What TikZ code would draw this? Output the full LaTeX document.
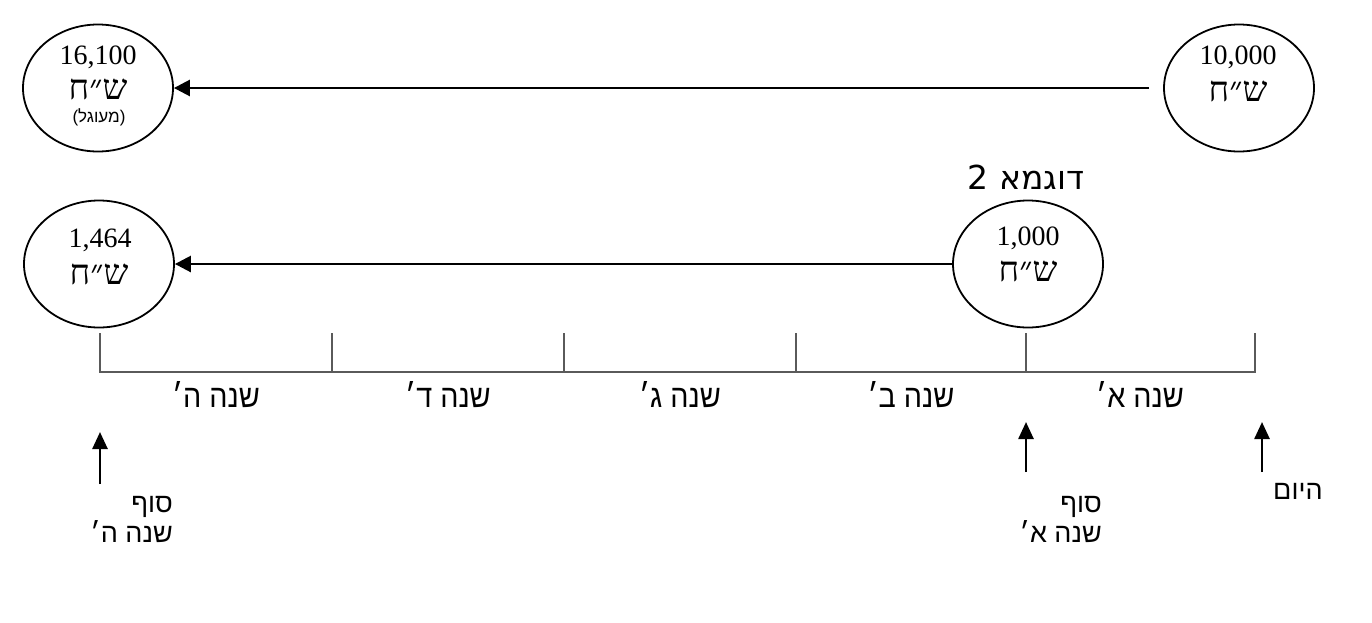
\documentclass[tikz,border=0pt]{standalone}
\usepackage{fontspec}
\usetikzlibrary{shapes.geometric,arrows.meta}
\TeXXeTstate=1
\newfontfamily\hebserif[Script=Hebrew]{Liberation Serif}
\newfontfamily\hebsans[Script=Hebrew]{Liberation Sans}
\newfontfamily\hebnarrow[Script=Hebrew,FakeStretch=0.9]{Liberation Sans}
\newfontfamily\hebdv[Script=Hebrew]{DejaVu Sans}
\definecolor{tlgray}{HTML}{5A5A5A}
\tikzset{
  circ/.style={draw, ellipse, line width=1.8pt, minimum width=150pt, minimum height=127pt, inner sep=0pt},
  num/.style={font=\hebserif\fontsize{28}{32}\selectfont, inner sep=0pt},
  cur/.style={font=\hebserif\fontsize{35}{40}\selectfont, inner sep=0pt},
  small/.style={font=\hebsans\fontsize{17}{20}\selectfont, inner sep=0pt},
  flow/.style={-{Triangle[length=16pt,width=16pt]}, line width=2.6pt},
  uparrow/.style={-{Triangle[length=17pt,width=15pt]}, line width=2.6pt},
  tl/.style={draw=tlgray, line width=1.6pt},
  year/.style={font=\hebnarrow\fontsize{32}{36}\selectfont, inner sep=0pt},
  lbl/.style={font=\hebsans\fontsize{27}{30}\selectfont, inner sep=0pt, align=right},
  title/.style={font=\hebdv\fontsize{33}{38}\selectfont, inner sep=0pt}
}
\begin{document}
\begin{tikzpicture}[x=1pt,y=-1pt]
\useasboundingbox (0,0) rectangle (1372,622);
% example 1
\node[circ] (c1) at (98,88) {};
\node[circ] (c2) at (1239,88) {};
\node[num] (c1n) at (98,57) {16,100};
\node[cur] (c1u) at (98,89) {\beginR ש״ח\endR};
\node[small] (c1r) at (99,117) {\beginR (מעוגל)\endR};
\node[num] (c2n) at (1238,57) {10,000};
\node[cur] (c2u) at (1238,91) {\beginR ש״ח\endR};
\draw[flow] ([xshift=-14pt]c2.west) -- (c1.east);
% example 2
\node[title] (t2) at (1026,177) {\beginR דוגמא 2\endR};
\node[circ] (c3) at (99,264) {};
\node[circ] (c4) at (1028,264) {};
\node[num] (c3n) at (100,240) {1,464};
\node[cur] (c3u) at (99,274) {\beginR ש״ח\endR};
\node[num] (c4n) at (1028,238) {1,000};
\node[cur] (c4u) at (1028,271) {\beginR ש״ח\endR};
\draw[flow] (c4.west) -- (c3.east);
% timeline
\coordinate (p0) at (100,372);
\coordinate (p1) at (332,372);
\coordinate (p2) at (564,372);
\coordinate (p3) at (796,372);
\coordinate (p4) at (1026,372);
\coordinate (p5) at (1255,372);
\draw[tl] ([yshift=39pt]p0) -- (p0) -- (p5) -- ([yshift=39pt]p5);
\foreach \p in {p1,p2,p3,p4} \draw[tl] (\p) -- ([yshift=39pt]\p);
\node[year] (y5) at (216,395) {\beginR שנה ה׳\endR};
\node[year] (y4) at (448,395) {\beginR שנה ד׳\endR};
\node[year] (y3) at (680,395) {\beginR שנה ג׳\endR};
\node[year] (y2) at (911,395) {\beginR שנה ב׳\endR};
\node[year] (y1) at (1140,395) {\beginR שנה א׳\endR};
% markers
\coordinate (m1s) at (100,484);
\coordinate (m1e) at (100,432);
\coordinate (m2s) at (1026,472);
\coordinate (m2e) at (1026,422);
\coordinate (m3s) at (1262,472);
\coordinate (m3e) at (1262,422);
\draw[uparrow] (m1s) -- (m1e);
\draw[uparrow] (m2s) -- (m2e);
\draw[uparrow] (m3s) -- (m3e);
\node[lbl, anchor=north east] (l1) at (173,496) {\beginR סוף\endR\\\beginR שנה ה׳\endR};
\node[lbl, anchor=north east] (l2) at (1102,496) {\beginR סוף\endR\\\beginR שנה א׳\endR};
\node[lbl, anchor=west] (l3) at (1273,491) {\beginR היום\endR};
\end{tikzpicture}
\end{document}
